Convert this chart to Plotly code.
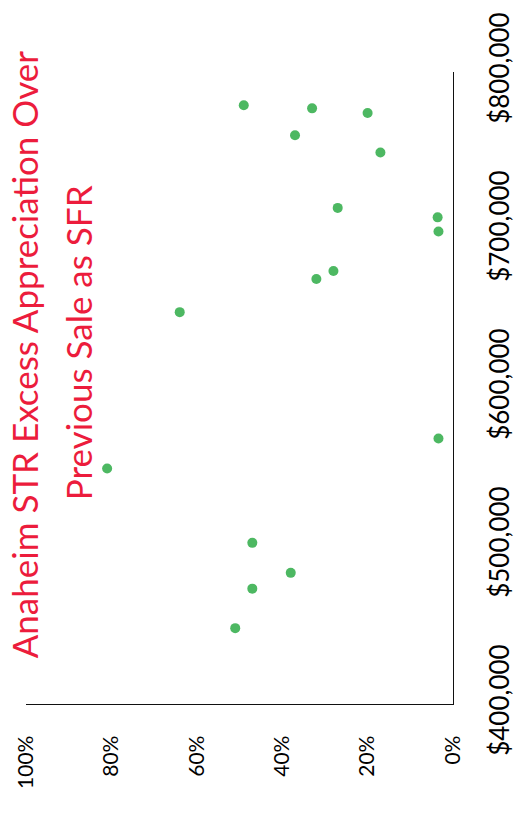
import plotly.graph_objects as go

# Sale price of each STR and its appreciation over the prior SFR sale
sale_price = [779000, 777000, 774000, 760000, 749000, 714000, 708000, 699000,
              674000, 669000, 648000, 568000, 502000, 483000, 473000, 448000,
              549000]
excess_appreciation = [0.49, 0.33, 0.20, 0.37, 0.17, 0.27, 0.036, 0.034,
                       0.28, 0.32, 0.64, 0.034, 0.47, 0.38, 0.47, 0.51,
                       0.81]

pct_ticks = [0, 0.2, 0.4, 0.6, 0.8, 1.0]
price_ticks = [400000, 500000, 600000, 700000, 800000]

title_lines = ["Anaheim STR Excess Appreciation Over", "Previous Sale as SFR"]

FONT = "Lato, Liberation Sans, sans-serif"
W, H = 527, 819
L, R, T, B = 22, 61, 68, 115
PW, PH = W - L - R, H - T - B


def px_x(x):
    return (x - L) / PW


def px_y(y):
    return (H - B - y) / PH


fig = go.Figure()
fig.add_trace(go.Scatter(
    x=excess_appreciation,
    y=sale_price,
    mode="markers",
    marker=dict(size=10, color="#4DB862"),
    hoverinfo="x+y",
))

fig.update_layout(
    width=W, height=H,
    margin=dict(l=L, r=R, t=T, b=B),
    paper_bgcolor="white",
    plot_bgcolor="white",
    showlegend=False,
    font=dict(family=FONT, size=22, color="#000000"),
    xaxis=dict(
        range=[1.0, 0.0],
        tickvals=pct_ticks,
        tickformat=".0%",
        tickangle=-90,
        showgrid=False,
        zeroline=False,
        showline=True,
        linecolor="#111111",
        linewidth=1.4,
        ticks="outside",
        ticklen=22,
        tickcolor="rgba(0,0,0,0)",
        tickfont=dict(family=FONT, size=21, color="#000000"),
    ),
    yaxis=dict(
        side="right",
        range=[400000, 800000],
        tickvals=price_ticks,
        tickformat="$,.0f",
        tickangle=-90,
        showgrid=False,
        zeroline=False,
        showline=True,
        linecolor="#111111",
        linewidth=1.4,
        ticks="outside",
        ticklen=24,
        tickcolor="rgba(0,0,0,0)",
        tickfont=dict(family=FONT, size=26, color="#000000"),
    ),
    annotations=[
        dict(
            text=title_lines[0],
            textangle=-90,
            xref="paper", yref="paper",
            x=px_x(20), y=px_y(352),
            xanchor="center", yanchor="middle",
            showarrow=False,
            font=dict(family=FONT, size=35, color="#EC1C3C"),
        ),
        dict(
            text=title_lines[1],
            textangle=-90,
            xref="paper", yref="paper",
            x=px_x(76), y=px_y(340),
            xanchor="center", yanchor="middle",
            showarrow=False,
            font=dict(family=FONT, size=35, color="#EC1C3C"),
        ),
    ],
)

fig.write_html("out.html")
